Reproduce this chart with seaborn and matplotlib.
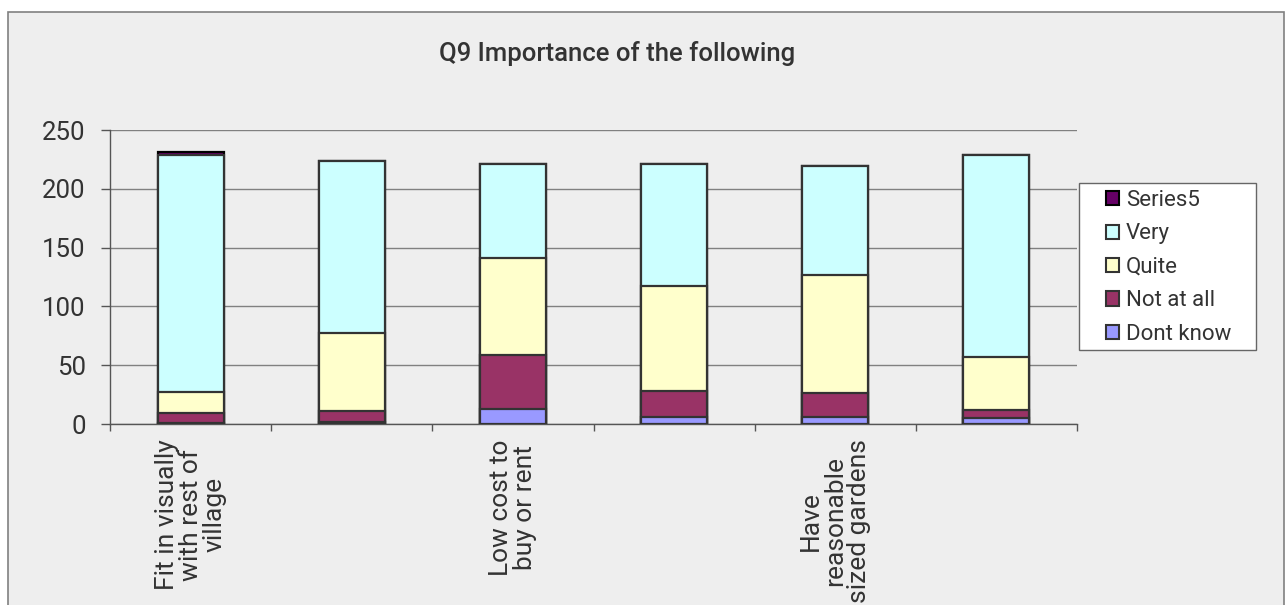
import numpy as np
import pandas as pd
import seaborn as sns
import matplotlib.pyplot as plt
from matplotlib.patches import Patch, Rectangle

# data
categories = ["Fit in visually\nwith rest of\nvillage", "", "Low cost to\nbuy or rent",
              "", "Have\nreasonable\nsized gardens", ""]
dont_know = [1, 2, 13, 6, 6, 5]
not_at_all = [8, 9, 46, 22, 20, 7]
quite = [18, 66, 82, 89, 101, 45]
very = [202, 147, 80, 104, 92, 172]
series5 = [2, 0, 0, 0, 0, 0]

series_names = ["Dont know", "Not at all", "Quite", "Very", "Series5"]
series_colors = ["#9999FF", "#993366", "#FFFFCC", "#CCFFFF", "#660066"]
series_edges = ["#333333", "#333333", "#333333", "#333333", "#000000"]

df = pd.DataFrame({"Dont know": dont_know, "Not at all": not_at_all, "Quite": quite,
                   "Very": very, "Series5": series5})
cum = df[series_names].cumsum(axis=1)
cum["pos"] = range(len(categories))

sns.set_theme(style="white")
plt.rcParams["font.family"] = ["Roboto", "DejaVu Sans"]
text_col = "#333333"

fig = plt.figure(figsize=(12.87, 6.05), dpi=100, facecolor="white")
fig.patches.append(Rectangle((8 / 1287, -0.05), 1276 / 1287, 1 - 12 / 605 + 0.05,
                             transform=fig.transFigure, facecolor="#EEEEEE",
                             edgecolor="#808080", linewidth=1.2, zorder=-10))

ax = fig.add_axes([110 / 1287, 1 - 424 / 605, 967 / 1287, 294 / 605])
ax.set_facecolor("none")

# draw tallest cumulative layer first so shorter ones sit on top
for name, color, edge in reversed(list(zip(series_names, series_colors, series_edges))):
    sns.barplot(data=cum, x="pos", y=name, color=color, width=0.41, edgecolor=edge,
                linewidth=1.6, saturation=1, ax=ax, zorder=3)

ax.set_xlim(-0.5, 5.5)
ax.set_ylim(0, 250)
ax.set_yticks(range(0, 251, 50))
ax.yaxis.grid(True, color="#808080", linewidth=1)
ax.set_axisbelow(True)

ax.set_xticks(np.arange(-0.5, 6, 1))
ax.set_xticklabels([])
ax.set_xticks(range(len(categories)), minor=True)
ax.set_xticklabels(categories, minor=True, rotation=90, ha="center", va="top",
                   multialignment="center", fontsize=19, color=text_col, linespacing=1.0)
ax.tick_params(axis="x", which="major", direction="out", length=5, width=1,
               color="#555555", bottom=True)
ax.tick_params(axis="x", which="minor", length=0, pad=11)
ax.tick_params(axis="y", direction="out", length=6.5, width=1, color="#555555",
               left=True, pad=11, labelsize=18.5, labelcolor=text_col)
ax.set_xlabel("")
ax.set_ylabel("")

for s in ["top", "right"]:
    ax.spines[s].set_visible(False)
for s in ["left", "bottom"]:
    ax.spines[s].set_color("#555555")
    ax.spines[s].set_linewidth(1)

fig.text(617 / 1287, 1 - 54 / 605, "Q9 Importance of the following", ha="center",
         va="center", fontsize=18.5, fontweight="medium", color=text_col)

# legend frame drawn separately so its padding can be wider than tall
fig.patches.append(Rectangle((1079 / 1287, 1 - 350 / 605), 177 / 1287, 167 / 605,
                             transform=fig.transFigure, facecolor="white",
                             edgecolor="#666666", linewidth=1, zorder=5))
handles = [Patch(facecolor=c, edgecolor=e, linewidth=1.5, label=n)
           for n, c, e in zip(series_names, series_colors, series_edges)][::-1]
leg = fig.legend(handles=handles, loc="upper left", bbox_to_anchor=(1106 / 1287, 1 - 190 / 605),
                 bbox_transform=fig.transFigure, fontsize=16, frameon=False,
                 handlelength=0.6, handleheight=0.6, handletextpad=0.3,
                 labelspacing=0.56, borderpad=0, borderaxespad=0)
leg.set_zorder(6)
for t in leg.get_texts():
    t.set_color(text_col)

fig.savefig("out.png", dpi=100, facecolor=fig.get_facecolor())
